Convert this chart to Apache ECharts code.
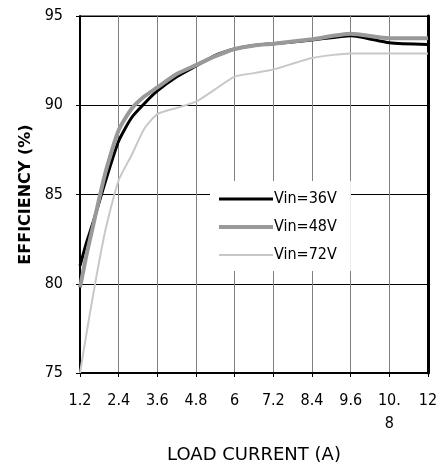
<!DOCTYPE html>
<html>
<head>
<meta charset="utf-8">
<script src="https://cdn.jsdelivr.net/npm/echarts@6/dist/echarts.min.js"></script>
<style>
html,body{margin:0;padding:0;background:#fff;}
#chart{width:443px;height:471px;}
</style>
</head>
<body>
<div id="chart"></div>
<script>
var current = [1.2, 1.4, 1.6, 1.8, 2.0, 2.4, 2.8, 3.2, 3.6, 4.2, 4.8, 5.4, 6.0, 6.6, 7.2, 8.4, 9.6, 10.8, 12];
var eff36 = [81.0, 82.3, 83.4, 84.6, 85.8, 88.0, 89.3, 90.1, 90.8, 91.6, 92.2, 92.8, 93.15, 93.35, 93.45, 93.65, 93.9, 93.5, 93.4];
var eff48 = [79.8, 81.6, 83.2, 84.8, 86.3, 88.6, 89.8, 90.5, 91.0, 91.75, 92.25, 92.75, 93.15, 93.35, 93.45, 93.7, 94.0, 93.75, 93.75];
var eff72 = [75.0, 77.2, 79.3, 81.3, 83.1, 85.8, 87.2, 88.7, 89.5, 89.85, 90.2, 90.9, 91.6, 91.8, 92.0, 92.65, 92.9, 92.9, 92.9];
var seriesNames = ['Vin=36V', 'Vin=48V', 'Vin=72V'];
var xTitle = 'LOAD CURRENT (A)';
var yTitle = 'EFFICIENCY (%)';

function pairs(ys) { return current.map(function (x, i) { return [x, ys[i]]; }); }

var chart = echarts.init(document.getElementById('chart'), null, {renderer: 'canvas'});
var tickFont = '"DejaVu Sans Condensed", "DejaVu Sans", sans-serif';
chart.setOption({
  animation: false,
  backgroundColor: '#fff',
  grid: {left: 80, right: 15, top: 16, bottom: 98, show: true, borderColor: '#000', borderWidth: 1},
  legend: {
    left: 210, top: 181, orient: 'vertical',
    backgroundColor: '#fff',
    padding: [10, 14, 8, 7],
    itemWidth: 54, itemHeight: 14, itemGap: 12,
    itemStyle: {opacity: 0, borderWidth: 0},
    textStyle: {fontFamily: tickFont, fontSize: 16, color: '#000', padding: [0, 0, 0, -4]},
    data: [
      {name: seriesNames[0], lineStyle: {width: 3}},
      {name: seriesNames[1], lineStyle: {width: 4}},
      {name: seriesNames[2], lineStyle: {width: 2}}
    ]
  },
  xAxis: {
    type: 'value', min: 1.2, max: 12, interval: 1.2,
    name: xTitle, nameLocation: 'middle', nameGap: 73,
    nameTextStyle: {fontFamily: '"DejaVu Sans", sans-serif', fontSize: 18, color: '#000'},
    axisLine: {show: true, onZero: false, lineStyle: {color: '#000', width: 2}},
    axisTick: {show: true, length: 4, lineStyle: {color: '#000', width: 1}},
    axisLabel: {
      margin: 16, color: '#000', fontFamily: tickFont, fontSize: 16, lineHeight: 23,
      formatter: function (v) {
        var s = (Math.round(v * 10) / 10).toString();
        if (s === '10.8') return '10.\n8';
        return s;
      }
    },
    splitLine: {show: true, lineStyle: {color: '#808080', width: 1}}
  },
  yAxis: [{
    type: 'value', min: 75, max: 95, interval: 5,
    name: yTitle, nameLocation: 'middle', nameGap: 46,
    nameTextStyle: {fontFamily: '"DejaVu Sans", sans-serif', fontSize: 16, fontWeight: 'bold', color: '#000'},
    axisLine: {show: true, onZero: false, lineStyle: {color: '#000', width: 2}},
    axisTick: {show: true, length: 4, lineStyle: {color: '#000', width: 1}},
    axisLabel: {margin: 17, color: '#000', fontFamily: tickFont, fontSize: 16},
    splitLine: {show: true, lineStyle: {color: '#000', width: 1}}
  }, {
    type: 'value', min: 75, max: 95, interval: 5, position: 'right',
    axisLine: {show: true, onZero: false, lineStyle: {color: '#000', width: 3}},
    axisTick: {show: false}, axisLabel: {show: false}, splitLine: {show: false}
  }],
  series: [
    {name: seriesNames[0], type: 'line', data: pairs(eff36), symbol: 'none', smooth: 0.2,
     lineStyle: {color: '#000', width: 3}, itemStyle: {color: '#000'}},
    {name: seriesNames[1], type: 'line', data: pairs(eff48), symbol: 'none', smooth: 0.2,
     lineStyle: {color: '#999999', width: 4}, itemStyle: {color: '#999999'}},
    {name: seriesNames[2], type: 'line', data: pairs(eff72), symbol: 'none', smooth: 0.2,
     lineStyle: {color: '#c8c8c8', width: 2}, itemStyle: {color: '#c8c8c8'}}
  ]
});
</script>
</body>
</html>
